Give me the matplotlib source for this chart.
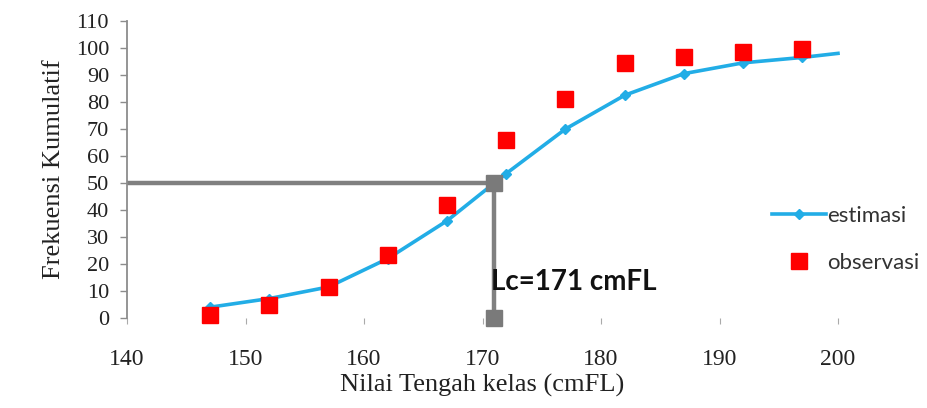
#!/usr/bin/env python3

import numpy as np
import matplotlib
matplotlib.use("Agg")
import matplotlib.pyplot as plt

# data
mid_class = [147, 152, 157, 162, 167, 172, 177, 182, 187, 192, 197]
est_x = [147, 152, 157, 162, 167, 172, 177, 182, 187, 192, 197, 200]
est_y = [4, 7.2, 11.5, 22, 36, 53.5, 70, 82.5, 90.5, 94.5, 96.5, 98]
obs_y = [1.2, 4.8, 11.5, 23.5, 42, 66, 81, 94.5, 96.5, 98.5, 99.5]
lc = 171
lc_level = 50

xticks = [140, 150, 160, 170, 180, 190, 200]
yticks = list(range(0, 111, 10))

serif = "Liberation Serif"
sans = "Lato"


def main():
    fig = plt.figure(figsize=(9.28, 4.08), dpi=100)
    ax = fig.add_axes([0.137, 0.2206, 0.766, 0.728])

    # Lc guide lines
    ax.plot([140, lc, lc], [lc_level, lc_level, 0], color="#808080", lw=3.2,
            zorder=2, solid_capstyle="butt")
    ax.plot([lc, lc], [lc_level, 0], ls="none", marker="s", ms=11,
            color="#7a7a7a", zorder=4, clip_on=False)

    ax.plot(est_x, est_y, color="#22ade6", lw=2.6, marker="D", ms=5,
            markevery=list(range(len(mid_class))), label="estimasi", zorder=3,
            clip_on=False)
    ax.plot(mid_class, obs_y, ls="none", marker="s", ms=11, color="#ff0000",
            label="observasi", zorder=5, clip_on=False)

    ax.text(lc - 0.25, 13.3, "Lc=171 cmFL", fontsize=20, fontweight="bold",
            family=sans, ha="left", va="center", color="#111111", zorder=6)

    ax.set_xlim(140, 200)
    ax.set_ylim(0, 110)
    ax.set_xticks(xticks)
    ax.set_yticks(yticks)

    for s in ["top", "right", "bottom"]:
        ax.spines[s].set_visible(False)
    ax.spines["left"].set_color("#8c8c8c")
    ax.spines["left"].set_linewidth(1.3)

    ax.tick_params(axis="y", direction="out", length=5, width=1, color="#8c8c8c",
                   pad=8, labelsize=16)
    ax.tick_params(axis="x", direction="out", length=4, width=0.8, color="#aaaaaa",
                   pad=18, labelsize=17)
    for lab in ax.get_xticklabels() + ax.get_yticklabels():
        lab.set_family(serif)
        lab.set_color("#222222")

    ax.set_xlabel("Nilai Tengah kelas (cmFL)", family=serif, fontsize=19,
                  color="#222222", labelpad=3)
    ax.set_ylabel("Frekuensi Kumulatif", family=serif, fontsize=19,
                  color="#222222", labelpad=8)

    leg = ax.legend(loc="center left", bbox_to_anchor=(0.895, 0.265), frameon=False,
                    prop={"family": sans, "size": 16}, handlelength=2.4,
                    handletextpad=0.05, labelspacing=1.2, borderaxespad=0)
    for t in leg.get_texts():
        t.set_color("#333333")

    fig.savefig("out.png", dpi=100)


if __name__ == "__main__":
    main()
